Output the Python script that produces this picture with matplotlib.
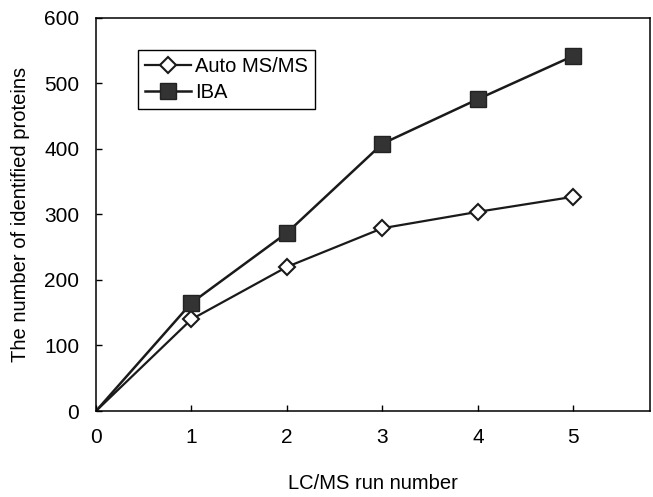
import matplotlib.pyplot as plt
import numpy as np

plt.rcParams["font.family"] = ["Liberation Sans", "DejaVu Sans"]
plt.rcParams["font.size"] = 15

# 数据
runs = [0, 1, 2, 3, 4, 5]
auto_msms = [0, 140, 220, 279, 304, 327]
iba = [0, 165, 272, 408, 476, 542]
labels = ["Auto MS/MS", "IBA"]

fig = plt.figure(figsize=(6.53, 4.97), dpi=100)
ax = fig.add_axes([0.147, 0.173, 0.848, 0.791])

ax.plot(runs, auto_msms, color="#1a1a1a", lw=1.6, marker="D", markersize=8,
        markerfacecolor="white", markeredgecolor="#1a1a1a", markeredgewidth=1.5,
        markevery=range(1, 6), label=labels[0])
ax.plot(runs, iba, color="#1a1a1a", lw=1.8, marker="s", markersize=11,
        markerfacecolor="#333333", markeredgecolor="#222222",
        markevery=range(1, 6), label=labels[1])

ax.set_xlim(0, 5.8)
ax.set_ylim(0, 600)
ax.set_xticks(range(0, 6))
ax.set_yticks(range(0, 601, 100))
ax.tick_params(direction="in", length=4, width=1, pad=12, labelsize=15)

for s in ax.spines.values():
    s.set_linewidth(1.1)

ax.set_xlabel("LC/MS run number", labelpad=20, fontsize=14.5)
ax.set_ylabel("The number of identified proteins", labelpad=10, fontsize=14.5)

leg = ax.legend(loc="upper left", bbox_to_anchor=(0.076, 0.918), fancybox=False,
                framealpha=1, edgecolor="black", handlelength=2.3, fontsize=14.5,
                handletextpad=0.2, borderpad=0.35, labelspacing=0.35,
                borderaxespad=0)
leg.get_frame().set_linewidth(1)

fig.savefig("out.png", dpi=100)
